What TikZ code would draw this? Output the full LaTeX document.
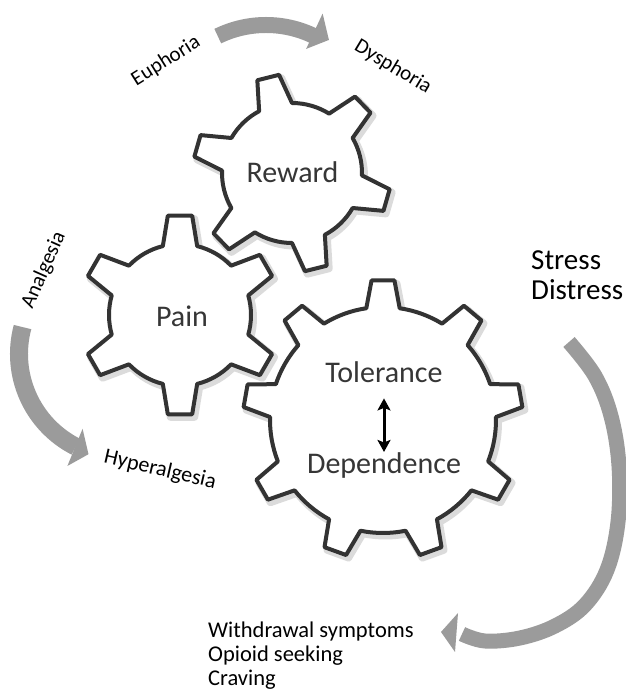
\documentclass[tikz,border=0pt]{standalone}
\usepackage{fontspec}
\setmainfont{Carlito}
\usetikzlibrary{calc,arrows.meta}
\definecolor{gearline}{HTML}{333333}
\definecolor{arrowgray}{HTML}{9B9B9B}
\definecolor{labeltext}{HTML}{363636}
% #1 style, #2 cx, #3 cy, #4 teeth, #5 tip r, #6 root r, #7 offset, #8 base half-angle, #9 tip half-angle
\newcommand{\gearoutline}[9]{%
  \begin{scope}[shift={(#2,#3)}]
  \path[#1] ({#7-#8}:#6)
   \foreach \k [evaluate=\k as \a using #7+(\k-1)*360/#4] in {1,...,#4}{
     -- ({\a-#9}:#5) -- ({\a+#9}:#5) -- ({\a+#8}:#6)
     arc[start angle=\a+#8, end angle=\a+360/#4-#8, radius=#6]
   } -- cycle;
  \end{scope}}
\tikzset{
  gearshadow/.style={draw=black, opacity=.14, line width=7pt, line join=round, shift={(2.5,-3)}},
  gearbody/.style={draw=gearline, fill=white, line width=4pt, line join=round},
  gearlabel/.style={text=labeltext, font=\fontsize{30}{32}\selectfont, inner sep=0pt},
  smalllabel/.style={text=black, font=\fontsize{21}{24}\selectfont, inner sep=0pt},
  shaft/.style={draw=arrowgray, line cap=butt},
  head/.style={fill=arrowgray},
  dbl/.style={{Stealth[length=12pt,width=13pt,inset=2.5pt]}-{Stealth[length=12pt,width=13pt,inset=2.5pt]}, line width=3pt, black}
}
\begin{document}
\begin{tikzpicture}[x=1pt,y=1pt]
\useasboundingbox (0,0) rectangle (626,691);
\fill[white] (0,0) rectangle (626,691);

% gear shadows
\gearoutline{gearshadow}{292}{518}{6}{99}{70}{104}{14}{6.5}
\gearoutline{gearshadow}{180}{376}{6}{100}{71}{90}{14}{7}
\gearoutline{gearshadow}{383}{271}{9}{140}{113}{90}{8.5}{4.7}
% gears
\gearoutline{gearbody}{292}{518}{6}{99}{70}{104}{14}{6.5}
\gearoutline{gearbody}{180}{376}{6}{100}{71}{90}{14}{7}
\gearoutline{gearbody}{383}{271}{9}{140}{113}{90}{8.5}{4.7}

% gear labels
\node[gearlabel, anchor=base] (reward) at (292.5,508) {Reward};
\node[gearlabel, anchor=base] (pain) at (182,364) {Pain};
\node[gearlabel, anchor=base] (tol) at (384,308) {Tolerance};
\node[gearlabel, anchor=base] (dep) at (384,217) {Dependence};
\draw[dbl] ([yshift=-15pt]tol.south) -- ([yshift=1pt]dep.north);

% top arrow: Euphoria -> Dysphoria
\coordinate (ctop) at (266,556);
\draw[shaft, line width=16pt] ($(ctop)+(116:110)$) arc[start angle=116, end angle=64, radius=110];
\fill[head] ($(ctop)+(65:95)$) -- ($(ctop)+(65:134)$) -- ($(ctop)+(56.5:114)$) -- cycle;

% left arrow: Analgesia -> Hyperalgesia
\coordinate (cleft) at (123,337);
\draw[shaft, line width=18pt] ($(cleft)+(165:104)$) arc[start angle=165, end angle=243, radius=104];
\fill[head] ($(cleft)+(241.6:85)$) -- ($(cleft)+(243.6:125)$) -- ($(cleft)+(251:106)$) -- cycle;

% right arrow: Stress/Distress -> Withdrawal
\draw[shaft, line width=15pt] plot[smooth, tension=0.6] coordinates {
  (569,349) (595,315) (611,275) (619,225) (618,169) (607,121) (585,86) (555,65) (520,53) (485,50) (462,57)};
\fill[head] (458,78) -- (441,59) -- (455,39) -- cycle;

% small labels
\node[smalllabel, rotate=32] (euph) at (166,630) {Euphoria};
\node[smalllabel, rotate=-31] (dysph) at (393,624) {Dysphoria};
\node[smalllabel, rotate=66] (analg) at (44,421) {Analgesia};
\node[smalllabel, font=\fontsize{22}{24}\selectfont, rotate=-13] (hyper) at (160,221) {Hyperalgesia};

\node[text=black, font=\fontsize{29}{30.5}\selectfont, inner sep=0pt, align=left, anchor=north west] (stress) at (531,441) {Stress\\Distress};
\node[text=black, font=\fontsize{22.5}{24}\selectfont, inner sep=0pt, align=left, anchor=north west] (withdraw) at (208,69) {Withdrawal symptoms\\Opioid seeking\\Craving};
\end{tikzpicture}
\end{document}
